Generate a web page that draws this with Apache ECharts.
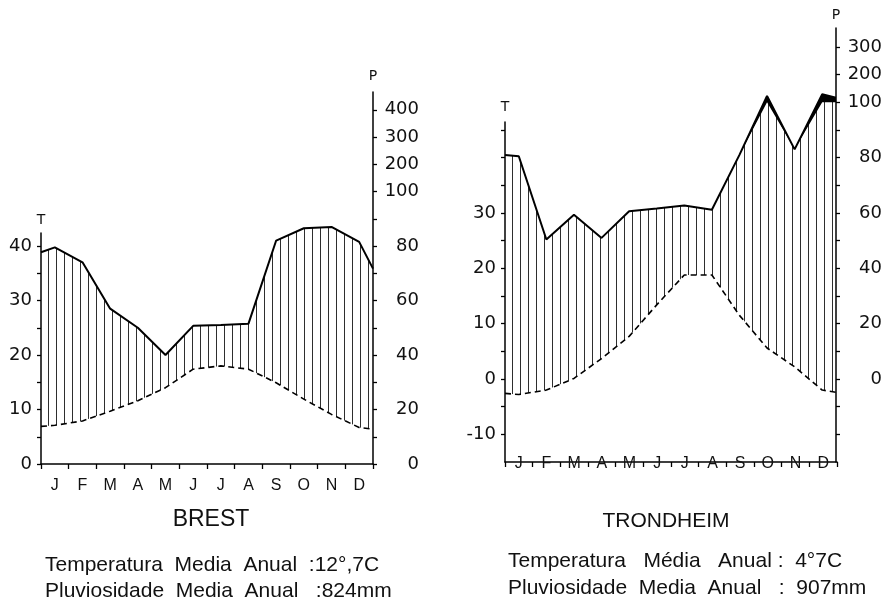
<!DOCTYPE html>
<html><head><meta charset="utf-8">
<script src="https://cdn.jsdelivr.net/npm/echarts@6/dist/echarts.min.js"></script>
<style>html,body{margin:0;padding:0;background:#fff}#c{width:885px;height:604px}</style>
</head><body><div id="c"></div>
<script>
// ---------------- data ----------------
const months = ['J','F','M','A','M','J','J','A','S','O','N','D'];

// Brest (temperature in °C, precipitation in mm); edges = values where the curves meet the axes
const brestTemp = [7.1, 7.9, 9.7, 11.6, 14.0, 17.4, 18.0, 17.4, 14.9, 11.9, 9.1, 6.7];
const brestTempEdges = [6.9, 6.4];
const brestPrecip = [79.5, 74, 57, 50, 40, 50.7, 51, 51.5, 82, 86.5, 87, 81.5];
const brestPrecipEdges = [77.7, 71.7];

// Trondheim
const trondTemp = [-2.8, -2.0, 0.1, 3.7, 7.7, 13.4, 18.8, 18.8, 11.5, 5.6, 2.2, -2.0];
const trondTempEdges = [-2.6, -2.4];
const trondPrecip = [80.5, 50.4, 59.4, 51, 60.6, 61.6, 62.7, 61.2, 81, 123, 83, 129];
const trondPrecipEdges = [81, 117];

// tick values (T in °C, P in mm)
const brestTTicks = [0, 5, 10, 15, 20, 25, 30, 35, 40];
const brestTLabels = [0, 10, 20, 30, 40];
const brestPTicks = [0, 10, 20, 30, 40, 50, 60, 70, 80, 90, 100, 200, 300, 400];
const brestPLabels = [0, 20, 40, 60, 80, 100, 200, 300, 400];
const trondTTicks = [-10, -5, 0, 5, 10, 15, 20, 25, 30, 35, 40, 45];
const trondTLabels = [-10, 0, 10, 20, 30];
const trondPTicks = [-20, -10, 0, 10, 20, 30, 40, 50, 60, 70, 80, 90, 100, 200, 300];
const trondPLabels = [0, 20, 40, 60, 80, 100, 200, 300];

const titles = ['BREST', 'TRONDHEIM'];
const brestInfo = ['Temperatura  Media  Anual  :12°,7C', 'Pluviosidade  Media  Anual   :824mm'];
const trondInfo = ['Temperatura   Média   Anual :  4°7C', 'Pluviosidade  Media  Anual   :  907mm'];

// ---------------- helpers ----------------
// Walter-Lieth scale: P = 2T up to 100 mm, above that 100 mm per 5 °C
function toT(p) { return p <= 100 ? p / 2 : 50 + (p - 100) / 20; }
function fromT(v) { return v <= 50 ? v * 2 : 100 + (v - 50) * 20; }
function pts(edges, vals, f) {
  const out = [[0, f(edges[0])]];
  vals.forEach((v, i) => out.push([i + 0.5, f(v)]));
  out.push([12, f(edges[1])]);
  return out;
}
const id = v => v;

// hatch pattern (vertical lines)
const pc = document.createElement('canvas');
pc.width = 8; pc.height = 8;
const pctx = pc.getContext('2d');
pctx.fillStyle = '#fff'; pctx.fillRect(0, 0, 8, 8);
pctx.fillStyle = '#2e2e2e'; pctx.fillRect(0, 0, 1, 8);
const hatch = { image: pc, repeat: 'repeat' };

const numFont = { color: '#111', fontFamily: 'DejaVu Sans', fontSize: 18 };
const axisLine = { show: true, onZero: false, lineStyle: { color: '#000', width: 1.5 } };
const tickLine = { color: '#000', width: 1.3 };
const nameStyle = { color: '#111', fontFamily: 'DejaVu Sans', fontSize: 14, align: 'center' };

const panels = [
  { left: 41, right: 373, bottom: 464, tTop: 233, pTop: 92, min: 0, ppu: 5.45,
    temp: brestTemp, tempE: brestTempEdges, prec: brestPrecip, precE: brestPrecipEdges,
    tTicks: brestTTicks, tLabels: brestTLabels, pTicks: brestPTicks, pLabels: brestPLabels,
    monthMargin: 14, tNameGap: 6, pNameGap: 9 },
  { left: 505, right: 837, bottom: 462, tTop: 122, pTop: 28, min: -15, ppu: 83 / 15,
    temp: trondTemp, tempE: trondTempEdges, prec: trondPrecip, precE: trondPrecipEdges,
    tTicks: trondTTicks, tLabels: trondTLabels, pTicks: trondPTicks, pLabels: trondPLabels,
    monthMargin: -6, tNameGap: 8, pNameGap: 6 }
];

const grid = [], xAxis = [], yAxis = [], series = [];
panels.forEach((g, k) => {
  const w = g.right - g.left;
  const gA = grid.length;
  grid.push({ left: g.left, width: w, top: g.pTop, height: g.bottom - g.pTop });
  const gB = grid.length;
  grid.push({ left: g.left, width: w, top: g.tTop, height: g.bottom - g.tTop });

  const xA = xAxis.length;
  xAxis.push({ type: 'value', gridIndex: gA, min: 0, max: 12, show: false });
  xAxis.push({ type: 'category', gridIndex: gB, position: 'bottom', data: months, boundaryGap: true, z: 10,
    axisLine: axisLine,
    axisTick: { show: true, interval: 0, length: 5, lineStyle: tickLine },
    axisLabel: { interval: 0, margin: g.monthMargin, color: '#111', fontFamily: 'Liberation Sans', fontSize: 16 },
    splitLine: { show: false } });

  const yA = yAxis.length;
  yAxis.push({ type: 'value', gridIndex: gA, position: 'right', z: 10,
    min: g.min, max: g.min + (g.bottom - g.pTop) / g.ppu,
    name: 'P', nameLocation: 'end', nameGap: g.pNameGap, nameTextStyle: nameStyle,
    axisLine: axisLine,
    axisTick: { show: true, length: 4, lineStyle: tickLine, customValues: g.pTicks.map(toT) },
    axisLabel: Object.assign({ align: 'right', margin: 46, customValues: g.pLabels.map(toT),
      formatter: v => String(Math.round(fromT(v))) }, numFont),
    splitLine: { show: false } });
  yAxis.push({ type: 'value', gridIndex: gB, position: 'left', z: 10,
    min: g.min, max: g.min + (g.bottom - g.tTop) / g.ppu,
    name: 'T', nameLocation: 'end', nameGap: g.tNameGap, nameTextStyle: nameStyle,
    axisLine: axisLine,
    axisTick: { show: true, length: 4, lineStyle: tickLine, customValues: g.tTicks },
    axisLabel: Object.assign({ margin: 9, customValues: g.tLabels,
      formatter: v => String(Math.round(v)) }, numFont),
    splitLine: { show: false } });

  const common = { type: 'line', xAxisIndex: xA, yAxisIndex: yA, symbol: 'none', showSymbol: false,
    silent: true, animation: false, smooth: false };
  // black fill above 100 mm
  series.push(Object.assign({}, common, { name: 'excess' + k, z: 1,
    data: pts(g.precE, g.prec, toT),
    lineStyle: { width: 0 }, areaStyle: { color: '#000', opacity: 1, origin: 'start' } }));
  // hatched humid period (precip up to 100 mm)
  series.push(Object.assign({}, common, { name: 'humid' + k, z: 2,
    data: pts(g.precE, g.prec, p => toT(Math.min(p, 100))),
    lineStyle: { width: 0 }, areaStyle: { color: hatch, opacity: 1, origin: 'start' } }));
  // temperature (dashed), white below
  series.push(Object.assign({}, common, { name: 'temp' + k, z: 3,
    data: pts(g.tempE, g.temp, id),
    lineStyle: { color: '#000', width: 1.6, type: [6, 4] },
    areaStyle: { color: '#fff', opacity: 1, origin: 'start' } }));
  // precipitation curve
  series.push(Object.assign({}, common, { name: 'precip' + k, z: 4,
    data: pts(g.precE, g.prec, toT),
    lineStyle: { color: '#000', width: 2 } }));
});

const txt = (text, x, y, size, align) => ({ type: 'text', x: x, y: y, silent: true,
  style: { text: text, fill: '#111', font: size + 'px "Liberation Sans"', textAlign: align, textVerticalAlign: 'middle' } });

const chart = echarts.init(document.getElementById('c'), null, { renderer: 'canvas' });
chart.setOption({
  backgroundColor: '#fff',
  animation: false,
  grid: grid, xAxis: xAxis, yAxis: yAxis, series: series,
  graphic: [
    txt(titles[0], 211, 520, 23, 'center'),
    txt(titles[1], 666, 521, 21, 'center'),
    txt(brestInfo[0], 45, 565, 21, 'left'),
    txt(brestInfo[1], 45, 591, 21, 'left'),
    txt(trondInfo[0], 508, 561, 21, 'left'),
    txt(trondInfo[1], 508, 588, 21, 'left')
  ]
});
</script></body></html>
